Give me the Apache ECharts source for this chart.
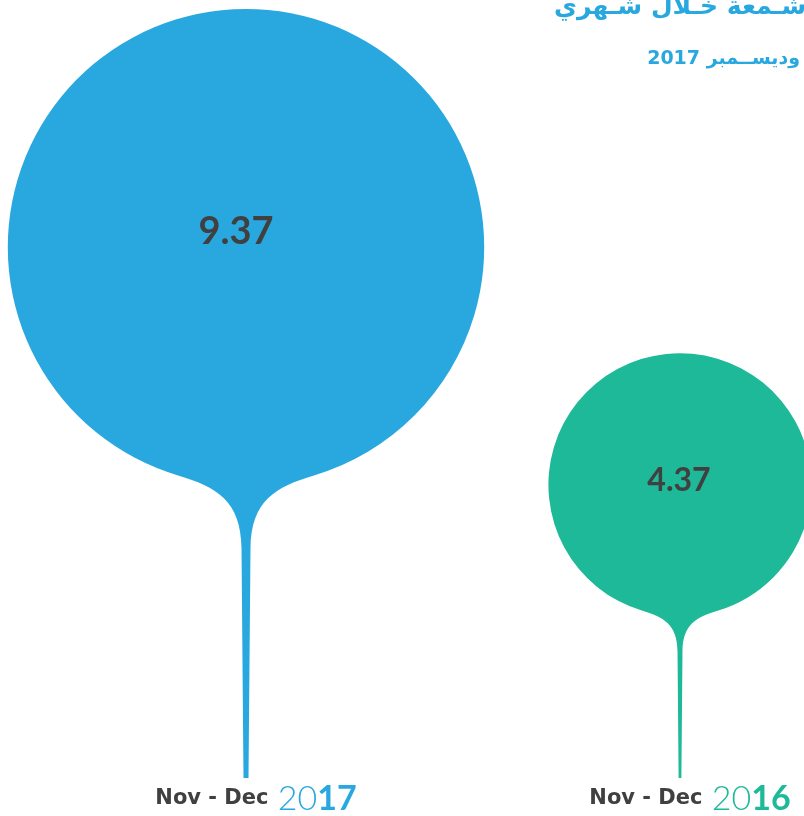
<!DOCTYPE html>
<html><head><meta charset="utf-8">
<script src="https://cdn.jsdelivr.net/npm/echarts@6/dist/echarts.min.js"></script>
<style>html,body{margin:0;padding:0;background:#fff}#c{width:804px;height:816px}</style>
</head><body><div id="c"></div>
<script>
// ---- data ----
const categories = ['Nov - Dec 2017', 'Nov - Dec 2016'];
const periodLabels = ['Nov - Dec ', 'Nov - Dec '];
const yearPrefix = ['20', '20'];
const yearSuffix = ['17', '16'];
const values = [9.37, 4.37];
const titleLines = ['شـمعة خـلال شـهري', '2017 وديســمبر'];

// ---- styles ----
const colors = ['#29a8e0', '#1db998'];
const textDark = '#404040';
const numFont = 'Lato, "Open Sans", sans-serif';
const labFont = '"DejaVu Sans", sans-serif';
const yMin = -1.8, yMax = 9.5;
// pin shape: circle with a tapering stem (bbox 477 x 770)
const PIN = 'M -68 467 A 238.5 238.5 0 1 1 68 467 C 29.7 478.4 5 492 4.5 540 L 2.5 770 L -2.5 770 L -4.5 540 C -5 492 -29.7 478.4 -68 467 Z';

const chart = echarts.init(document.getElementById('c'), null, {renderer: 'canvas'});
const rich = {a: {fontSize: 21, fontWeight: 'bold', color: textDark, fontFamily: labFont, padding: [0, 2, 0, 20]}};
colors.forEach((c, i) => {
  rich['b' + i] = {fontSize: 34, fontWeight: 300, color: c, fontFamily: numFont};
  rich['c' + i] = {fontSize: 34, fontWeight: 'bold', color: c, fontFamily: numFont};
});

chart.setOption({
  animation: false,
  grid: {left: 29, width: 868, top: 0, height: 778, outerBoundsMode: 'none', containLabel: false},
  xAxis: {
    type: 'category', data: categories,
    axisLine: {show: false}, axisTick: {show: false},
    axisLabel: {
      margin: 4, interval: 0,
      formatter: (v, i) => `{a|${periodLabels[i]}}{b${i}|${yearPrefix[i]}}{c${i}|${yearSuffix[i]}}`,
      rich: rich
    }
  },
  yAxis: {type: 'value', min: yMin, max: yMax, show: false},
  graphic: [
    {type: 'text', right: -2, top: -5, style: {text: titleLines[0], fontSize: 25, fontWeight: 'bold', fill: colors[0], fontFamily: '"DejaVu Sans", sans-serif'}},
    {type: 'text', right: 4, top: 50, style: {text: titleLines[1], fontSize: 19, fontWeight: 'bold', fill: colors[0], fontFamily: '"DejaVu Sans", sans-serif'}}
  ],
  series: [{
    type: 'custom',
    data: values.map((v, i) => [i, v]),
    encode: {x: 0, y: 1},
    renderItem: function (params, api) {
      const idx = params.dataIndex;
      const top = api.coord([api.value(0), api.value(1)]);
      const base = api.coord([api.value(0), yMin]);
      const h = base[1] - top[1];
      const w = h * 477 / 770;
      const cx = top[0];
      const r = w / 2;
      const fs = idx === 0 ? 38 : 32;
      return {
        type: 'group',
        children: [
          {type: 'path', shape: {pathData: PIN, x: cx - w / 2, y: top[1], width: w, height: h, layout: 'cover'},
           style: {fill: colors[idx]}},
          {type: 'text', x: cx - (idx === 0 ? 10 : 1), y: top[1] + r * (idx === 0 ? 0.935 : 0.97),
           style: {text: values[idx].toFixed(2), fontSize: fs, fontWeight: 'bold', fill: textDark,
                   fontFamily: numFont, align: 'center', verticalAlign: 'middle'}}
        ]
      };
    }
  }]
});
</script></body></html>
